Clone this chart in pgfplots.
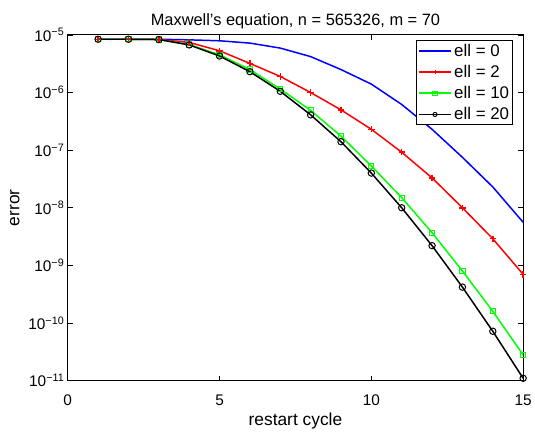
\documentclass[border=0pt]{standalone}
\usepackage{fontspec}
\setmainfont{Liberation Sans}
\usepackage{pgfplots}
\pgfplotsset{compat=1.18}
\begin{document}
\begin{tikzpicture}
    \begin{semilogyaxis}[
        scale only axis,
        width=457bp, height=347bp,
        xmin=0, xmax=15,
        ymin=1e-11, ymax=1e-5,
        log basis y=10,
        xtick={0,5,10,15},
        ytick={1e-11,1e-10,1e-9,1e-8,1e-7,1e-6,1e-5},
        yticklabels={10\textsuperscript{−11},10\textsuperscript{−10},10\textsuperscript{−9},10\textsuperscript{−8},10\textsuperscript{−7},10\textsuperscript{−6},10\textsuperscript{−5}},
        /pgf/number format/assume math mode=true,
        tick align=inside,
        tick pos=both,
        major tick length=5bp,
        minor tick length=2.5bp,
        axis line style={line width=1bp},
        every tick/.style={black, line width=0.7bp},
        tick label style={font=\fontsize{15.5}{18}\selectfont},
        xticklabel style={yshift=-11bp},
        label style={font=\fontsize{17.5}{20}\selectfont},
        ylabel style={yshift=2bp},
        title style={font=\fontsize{16.5}{19}\selectfont, yshift=-3bp},
        title={Maxwell’s equation, n = 565326, m = 70},
        xlabel={restart cycle},
        ylabel={error},
        legend style={at={(0.978,0.985)}, anchor=north east, draw=black, line width=1bp,
            font=\fontsize{17}{20}\selectfont, inner sep=1.5bp, row sep=3.5bp},
        legend cell align=left,
        legend image code/.code={%
            \draw[#1, mark=none, line width=1.7bp] plot coordinates {(0bp,0bp) (33bp,0bp)};
            \draw[#1, mark size=2.1bp, mark options={line width=0.9bp}] plot coordinates {(16.5bp,0bp)};},
    ]
        \addplot[blue, line width=1.5bp, mark=none] coordinates {
            (1,8.4e-6)(2,8.4e-6)(3,8.4e-6)(4,8.2e-6)(5,7.9e-6)(6,7.2e-6)(7,5.9e-6)(8,4.2e-6)
            (9,2.5e-6)(10,1.4e-6)(11,6.2e-7)(12,2.3e-7)(13,7.5e-8)(14,2.3e-8)(15,5.6e-9)};
        \addlegendentry{ell = 0}
        \addplot[red, line width=1.5bp, mark=+, mark size=3.2bp] coordinates {
            (1,8.4e-6)(2,8.4e-6)(3,8.3e-6)(4,7.4e-6)(5,5.3e-6)(6,3.2e-6)(7,1.9e-6)(8,1.0e-6)
            (9,5.0e-7)(10,2.3e-7)(11,9.2e-8)(12,3.3e-8)(13,1.0e-8)(14,2.9e-9)(15,7.0e-10)};
        \addlegendentry{ell = 2}
        \addplot[green, line width=1.5bp, mark=square, mark size=2.6bp, mark options={line width=1bp}] coordinates {
            (1,8.4e-6)(2,8.4e-6)(3,8.3e-6)(4,6.8e-6)(5,4.5e-6)(6,2.5e-6)(7,1.15e-6)(8,4.9e-7)
            (9,1.75e-7)(10,5.3e-8)(11,1.5e-8)(12,3.7e-9)(13,8e-10)(14,1.6e-10)(15,2.8e-11)};
        \addlegendentry{ell = 10}
        \addplot[black, line width=1.5bp, mark=o, mark size=3.2bp, mark options={line width=1bp}] coordinates {
            (1,8.4e-6)(2,8.4e-6)(3,8.3e-6)(4,6.7e-6)(5,4.3e-6)(6,2.3e-6)(7,1.05e-6)(8,4.1e-7)
            (9,1.4e-7)(10,4.0e-8)(11,1.0e-8)(12,2.2e-9)(13,4.2e-10)(14,7.2e-11)(15,1.1e-11)};
        \addlegendentry{ell = 20}
    \end{semilogyaxis}
    \path (-68bp,-46bp) rectangle (467bp,382bp);
\end{tikzpicture}
\end{document}
